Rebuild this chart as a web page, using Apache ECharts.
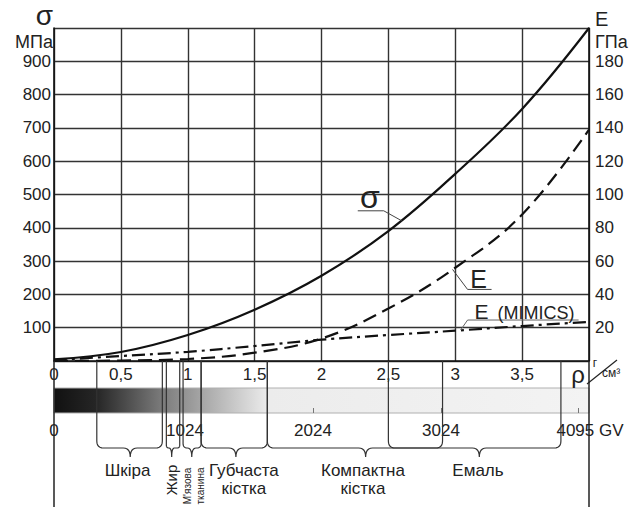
<!DOCTYPE html>
<html><head><meta charset="utf-8">
<script src="https://cdn.jsdelivr.net/npm/echarts/dist/echarts.min.js"></script>
<style>html,body{margin:0;padding:0;background:#fff}#c{width:638px;height:507px}</style>
</head><body><div id="c"></div>
<script>
// ---- data ----
const rho        = [0, 0.5, 1, 1.5, 2, 2.5, 3, 3.5, 4];
const sigmaMPa   = [5, 27, 78, 154, 256, 390, 562, 757, 1000];
const eGPa       = [0, 0.3, 1.2, 5, 13.5, 31.5, 56, 88, 139];
const eMimicsGPa = [0.5, 3, 5.5, 9, 12.8, 15.6, 18.2, 21, 23.5];
const gvTicks      = [0, 1024, 2024, 3024, 4095];
const gvMinorTicks = [2024, 3024, 4095];
const gvAxisMax    = 4181;
const tissueNames  = ['Шкіра', 'Жир', "М'язова\nтканина", 'Губчаста\nкістка', 'Компактна\nкістка', 'Емаль'];
const tissueFrom   = [0.32, 0.84, 0.965, 1.10, 1.595, 2.50];
const tissueTo     = [0.81, 0.94, 1.10, 1.595, 2.905, 3.79];
const tissueTip    = [0.57, 0.88, 1.03, 1.36, 2.33, 3.18];
const tissueLabelAt= [0.55, 0.875, 1.04, 1.42, 2.31, 3.17];
const tissueVertical=[false, true, true, false, false, false];

const FF = '"Liberation Sans", Arial, sans-serif';
const TXT = '#222';
const chart = echarts.init(document.getElementById('c'), null, {renderer: 'svg'});

const axisText = {fontSize: 17, color: TXT, fontFamily: FF};
const option = {
  animation: false,
  backgroundColor: '#fff',
  grid: [
    {left: 54, right: 49, top: 28, bottom: 146},
    {left: 54, right: 49, top: 388, height: 25, show: true,
     backgroundColor: {type: 'linear', x: 0, y: 0, x2: 1, y2: 0, colorStops: [
       {offset: 0, color: '#111111'}, {offset: 0.08, color: '#262626'},
       {offset: 0.2, color: '#7a7a7a'}, {offset: 0.28, color: '#a8a8a8'},
       {offset: 0.4, color: '#ececec'}, {offset: 1, color: '#f3f3f3'}]},
     borderColor: '#b0b0b0', borderWidth: 1}
  ],
  xAxis: [
    {gridIndex: 0, type: 'value', min: 0, max: 4, interval: 0.5,
     axisLine: {show: true, onZero: false, lineStyle: {color: '#111', width: 1.6}},
     axisTick: {show: false},
     axisLabel: Object.assign({margin: 5, formatter: v => v >= 4 ? '' : String(v).replace('.', ',')}, axisText),
     splitLine: {show: true, lineStyle: {color: '#333', width: 1.4}}},
    {gridIndex: 1, type: 'value', min: 0, max: gvAxisMax, position: 'bottom',
     axisLine: {show: false},
     axisTick: {show: true, inside: true, length: 5, customValues: gvMinorTicks, lineStyle: {color: '#777', width: 1}},
     axisLabel: Object.assign({margin: 9, customValues: gvTicks,
       formatter: v => v === 4095 ? '{sp|}{t|4095 GV}' : String(v),
       rich: {sp: {width: 24}, t: {fontSize: 17, color: TXT, fontFamily: FF}}}, axisText),
     splitLine: {show: false}}
  ],
  yAxis: [
    {gridIndex: 0, type: 'value', min: 0, max: 1000, interval: 100, position: 'left',
     axisLine: {show: true, lineStyle: {color: '#111', width: 1.6}},
     axisTick: {show: false},
     axisLabel: Object.assign({margin: 3, formatter: v => (v === 0 || v === 1000) ? '' : String(v)}, axisText),
     splitLine: {show: true, lineStyle: {color: '#333', width: 1.4}}},
    {gridIndex: 0, type: 'value', min: 0, max: 200, interval: 20, position: 'right',
     axisLine: {show: true, lineStyle: {color: '#111', width: 1.6}},
     axisTick: {show: false},
     axisLabel: Object.assign({margin: 6, formatter: v => (v === 0 || v === 200) ? '' : String(v)}, axisText),
     splitLine: {show: false}},
    {gridIndex: 1, type: 'value', min: 0, max: 1, show: false}
  ],
  series: [
    {name: 'σ', type: 'line', xAxisIndex: 0, yAxisIndex: 0, smooth: 0.4, symbol: 'none',
     data: rho.map((r, i) => [r, sigmaMPa[i]]), lineStyle: {color: '#111', width: 2.2}, z: 5},
    {name: 'E', type: 'line', xAxisIndex: 0, yAxisIndex: 1, smooth: 0.4, symbol: 'none',
     data: rho.map((r, i) => [r, eGPa[i]]), lineStyle: {color: '#111', width: 2.2, type: [14, 7]}, z: 5},
    {name: 'E (MIMICS)', type: 'line', xAxisIndex: 0, yAxisIndex: 1, smooth: 0.4, symbol: 'none',
     data: rho.map((r, i) => [r, eMimicsGPa[i]]), lineStyle: {color: '#111', width: 2.2, type: [13, 5, 3, 5]}, z: 5}
  ]
};
chart.setOption(option);

function txt(text, x, y, size, align, extra) {
  return Object.assign({type: 'text', x: x, y: y, z: 20, silent: true,
    style: {text: text, fill: TXT, font: size + 'px ' + FF, align: align || 'center', verticalAlign: 'middle',
            textAlign: align || 'center', textVerticalAlign: 'middle'}}, extra || {});
}
function line(x1, y1, x2, y2, color, w) {
  return {type: 'line', z: 15, silent: true, shape: {x1: x1, y1: y1, x2: x2, y2: y2},
          style: {stroke: color || '#333', lineWidth: w || 1.2}};
}
function quad(pts, p0, c, p1, n) {
  for (let i = 1; i <= n; i++) {
    const t = i / n, a = (1 - t) * (1 - t), b = 2 * (1 - t) * t, d = t * t;
    pts.push([a * p0[0] + b * c[0] + d * p1[0], a * p0[1] + b * c[1] + d * p1[1]]);
  }
}
function brace(x1, x2, xt, y0, yH, yT) {
  const r = Math.min(7, (xt - x1) / 2, (x2 - xt) / 2);
  const pts = [[x1, y0], [x1, yH - r]];
  quad(pts, [x1, yH - r], [x1, yH], [x1 + r, yH], 6);
  pts.push([xt - r, yH]);
  quad(pts, [xt - r, yH], [xt, yH], [xt, yT], 6);
  quad(pts, [xt, yT], [xt, yH], [xt + r, yH], 6);
  pts.push([x2 - r, yH]);
  quad(pts, [x2 - r, yH], [x2, yH], [x2, yH - r], 6);
  pts.push([x2, y0]);
  return {type: 'polyline', z: 15, silent: true, shape: {points: pts},
          style: {stroke: '#333', lineWidth: 1.2, fill: null}};
}

function build() {
  const xp = v => chart.convertToPixel({xAxisIndex: 0}, v);
  const pS = (x, y) => chart.convertToPixel({seriesIndex: 0}, [x, y]);
  const pE = (x, y) => chart.convertToPixel({seriesIndex: 1}, [x, y]);
  const x0 = xp(0), x4 = xp(4);
  const yTop = pS(0, 1000)[1], yBase = pS(0, 0)[1];
  const H = chart.getHeight();
  const g = [];
  // axis lines continue to the bottom
  g.push(line(x0, yBase, x0, H, '#222', 1.5));
  g.push(line(x4, yBase, x4, H, '#222', 1.5));
  // axis names
  g.push(txt('σ', x0 - 1, yTop - 13, 28, 'right'));
  g.push(txt('МПа', x0 - 1, yTop + 14, 18, 'right'));
  g.push(txt('E', x4 + 6, yTop - 9, 20, 'left'));
  g.push(txt('ГПа', x4 + 6, yTop + 14, 18, 'left'));
  // density unit
  g.push(txt('ρ', x4 - 11, yBase + 13, 24, 'center'));
  g.push(line(x4 - 2, yBase + 23, x4 + 28, yBase - 1, '#222', 1.2));
  g.push(txt('г', x4 + 6, yBase + 2, 12, 'center'));
  g.push(txt('см³', x4 + 22, yBase + 12, 12, 'center'));
  // tissue braces
  const yH = yBase + 87, yT = yBase + 96;
  for (let i = 0; i < tissueNames.length; i++) {
    g.push(brace(xp(tissueFrom[i]), xp(tissueTo[i]), xp(tissueTip[i]), yBase, yH, yT));
    const lx = xp(tissueLabelAt[i]);
    const parts = tissueNames[i].split('\n');
    if (tissueVertical[i]) {
      if (parts.length === 1) {
        g.push(txt(parts[0], lx, yBase + 119, 15, 'center', {rotation: Math.PI / 2}));
      } else {
        g.push(txt(parts[0], lx - 6, yBase + 125, 10, 'center', {rotation: Math.PI / 2}));
        g.push(txt(parts[1], lx + 7, yBase + 125, 10, 'center', {rotation: Math.PI / 2}));
      }
    } else {
      g.push(txt(parts[0], lx, yBase + 109, 17, 'center'));
      if (parts[1]) g.push(txt(parts[1], lx, yBase + 127, 17, 'center'));
    }
  }
  // curve annotations
  const s = pS(2.6, 421);
  g.push(line(s[0], s[1], s[0] - 18, s[1] - 10, '#444', 1));
  g.push(line(s[0] - 18, s[1] - 10, s[0] - 44, s[1] - 10, '#444', 1));
  g.push(txt('σ', s[0] - 32, s[1] - 24, 32, 'center'));
  const e = pE(2.98, 55);
  g.push(line(e[0], e[1], e[0] + 15, e[1] + 20, '#444', 1));
  g.push(line(e[0] + 15, e[1] + 20, e[0] + 39, e[1] + 20, '#444', 1));
  g.push(txt('E', e[0] + 26, e[1] + 10, 25, 'center'));
  const m = pE(3.04, 18.6);
  g.push(line(m[0], m[1], m[0] + 7, m[1] - 10, '#666', 1));
  g.push(line(m[0] + 7, m[1] - 10, m[0] + 118, m[1] - 10, '#666', 1));
  g.push(txt('E', m[0] + 21, m[1] - 19, 21, 'center'));
  g.push(txt('(MIMICS)', m[0] + 37, m[1] - 17, 18, 'left'));
  chart.setOption({graphic: g});
}
build();
</script>
</body></html>
